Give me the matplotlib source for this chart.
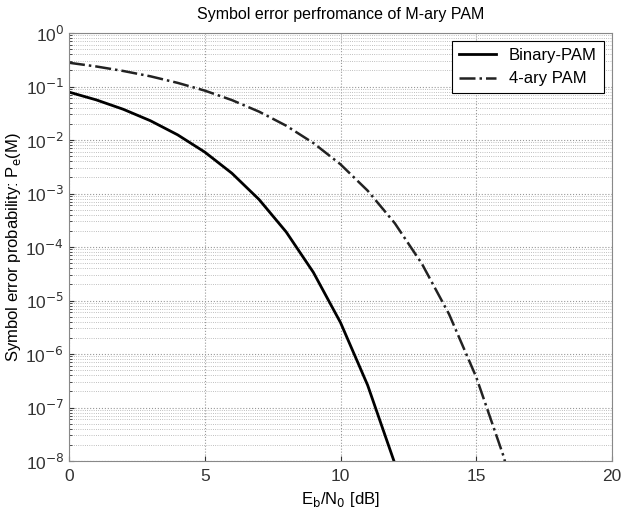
import matplotlib
matplotlib.use("Agg")
import matplotlib.pyplot as plt
from matplotlib.ticker import FixedLocator, NullFormatter

plt.rcParams['font.family'] = ['Liberation Sans', 'DejaVu Sans']

ebn0_db = [0, 1, 2, 3, 4, 5, 6, 7, 8, 9, 10, 11, 12, 13, 14, 15, 16, 17]
pe_binary = [0.0786, 0.0563, 0.0375, 0.0229, 0.0125, 5.95e-3, 2.39e-3, 7.73e-4,
             1.91e-4, 3.36e-5, 3.87e-6, 2.61e-7, 9.0e-9, 1.3e-10, None, None, None, None]
pe_4ary = [0.278, 0.237, 0.195, 0.155, 0.117, 0.0838, 0.0557, 0.0339, 0.0185,
           8.78e-3, 3.51e-3, 1.13e-3, 2.78e-4, 4.84e-5, 5.53e-6, 3.69e-7, 1.25e-8, 1.8e-10]
labels = ['Binary-PAM', '4-ary PAM']
y_exps = [-8, -7, -6, -5, -4, -3, -2, -1, 0]

fig = plt.figure(figsize=(6.22, 5.09), dpi=100)
ax = fig.add_axes([69/622, 1 - 461/509, (612-69)/622, (461-33)/509])

xb = [x for x, y in zip(ebn0_db, pe_binary) if y is not None]
yb = [y for y in pe_binary if y is not None]
ax.semilogy(xb, yb, color='black', lw=2.0, label=labels[0])
ax.semilogy(ebn0_db, pe_4ary, color='#222222', lw=1.8, ls='-.', label=labels[1])

ax.set_xlim(0, 20)
ax.set_ylim(1e-8, 1)
ax.set_xticks([0, 5, 10, 15, 20])
majors = [10.0 ** e for e in y_exps]
ax.yaxis.set_major_locator(FixedLocator(majors))
ax.set_yticklabels([r'10$^{%d}$' % e for e in y_exps])
minors = [m * 10.0 ** e for e in y_exps[:-1] for m in range(2, 10)]
ax.yaxis.set_minor_locator(FixedLocator(minors))
ax.yaxis.set_minor_formatter(NullFormatter())
ax.grid(True, which='major', ls=':', color='#999999', lw=0.8)
ax.grid(True, which='minor', axis='y', ls=':', color='#aaaaaa', lw=0.6)
ax.tick_params(labelsize=12.5, direction='in', which='both', colors='#333333')
ax.tick_params(axis='x', pad=6)
for s in ax.spines.values():
    s.set_color('#888888')

ax.set_title('Symbol error perfromance of M-ary PAM', fontsize=11.5, pad=10)
ax.set_xlabel(r'E$_\mathrm{b}$/N$_\mathrm{0}$ [dB]', fontsize=12, labelpad=4)
ax.set_ylabel(r'Symbol error probability: P$_\mathrm{e}$(M)', fontsize=12, labelpad=2)

leg = ax.legend(loc='upper right', fontsize=12, fancybox=False, framealpha=1,
                edgecolor='black', handlelength=2.2, borderaxespad=0.5)
leg.get_frame().set_linewidth(0.8)

fig.savefig('out.png', dpi=100)
